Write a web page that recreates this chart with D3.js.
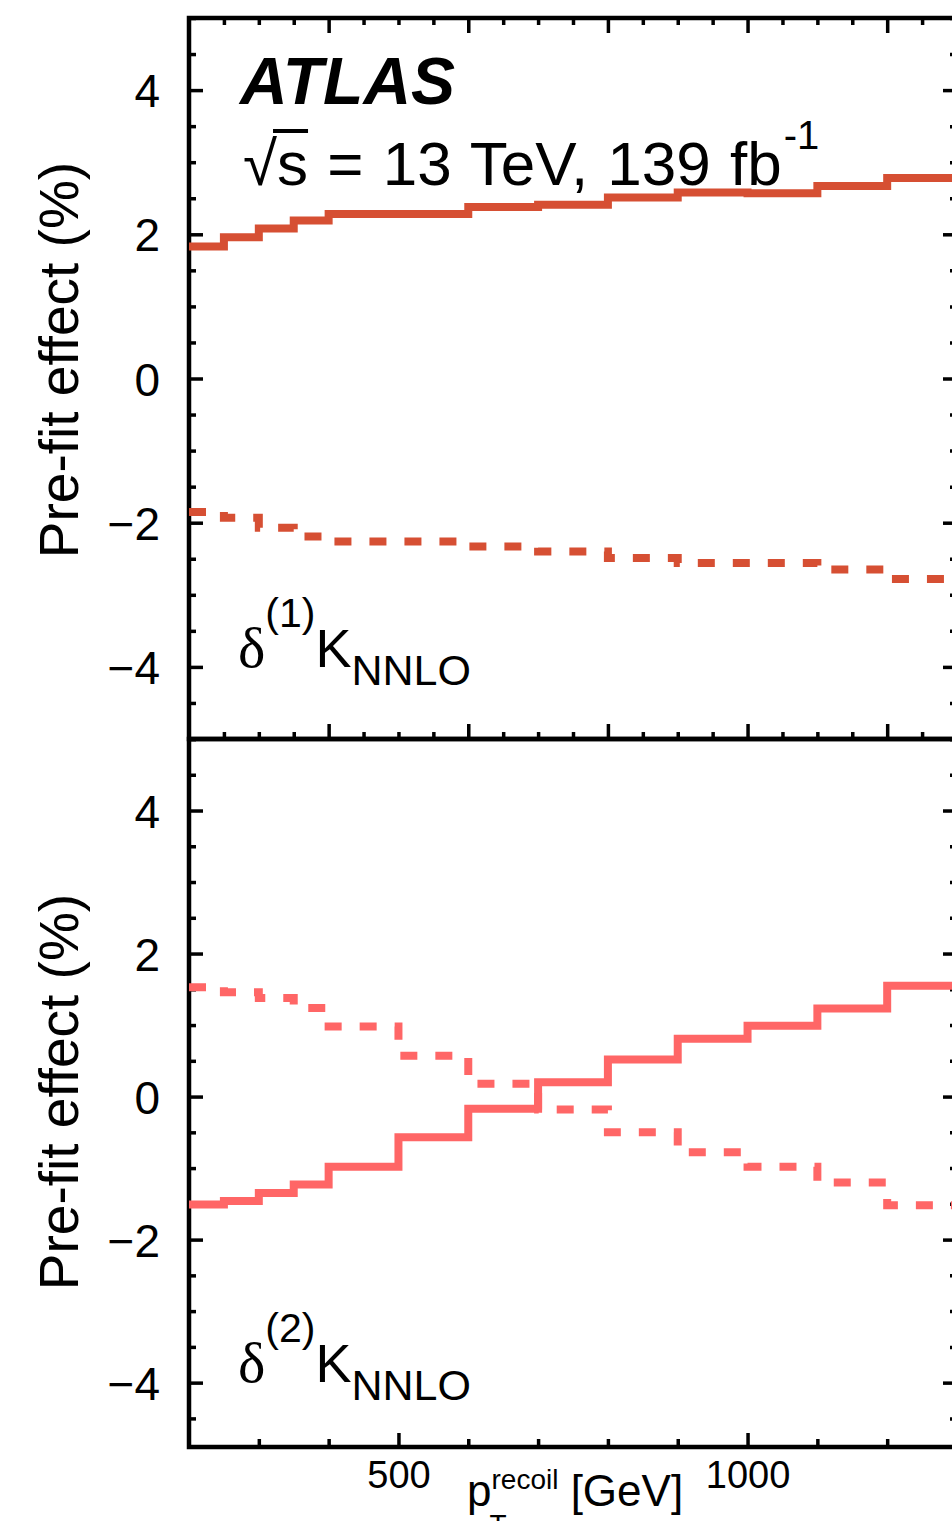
<!DOCTYPE html>
<html>
<head>
<meta charset="utf-8">
<script src="https://cdn.jsdelivr.net/npm/d3@7"></script>
<style>
  body { margin: 0; background: #fff; }
  svg { display: block; }
  text { font-family: "Liberation Sans", Arial, sans-serif; fill: #000; }
</style>
</head>
<body>
<div id="chart"></div>
<script>
// bin edges in GeV and the four variations (%)
var edges = [200, 250, 300, 350, 400, 500, 600, 700, 800, 900, 1000, 1100, 1200, 1300];
var k1Up   = [1.83, 1.96, 2.08, 2.19, 2.28, 2.28, 2.38, 2.41, 2.51, 2.58, 2.57, 2.67, 2.78];
var k1Down = [-1.85, -1.93, -2.07, -2.19, -2.26, -2.26, -2.33, -2.40, -2.49, -2.56, -2.56, -2.65, -2.78];
var k2Up   = [-1.51, -1.46, -1.35, -1.23, -0.98, -0.57, -0.17, 0.20, 0.52, 0.81, 0.99, 1.23, 1.55];
var k2Down = [1.53, 1.46, 1.38, 1.24, 0.98, 0.57, 0.18, -0.18, -0.50, -0.78, -0.98, -1.20, -1.52];

var yMajor = [-4, -2, 0, 2, 4];
var xLabels = [500, 1000];

var W = 952, H = 1521;
var left = 189, right = 957;
var frameW = 4.5;

var svg = d3.select("#chart").append("svg")
    .attr("width", W)
    .attr("height", H);

var x = d3.scaleLinear().domain([200, 1300]).range([left, right]);
var yTop = d3.scaleLinear().domain([-5, 5]).range([739, 18]);
var yBot = d3.scaleLinear().domain([-4.9, 5]).range([1447, 739]);

function minorsY(lo, hi) {
    return d3.range(Math.ceil(lo * 2) / 2, hi + 0.001, 0.5).filter(function(v) { return Math.abs(v % 2) > 1e-6; });
}

// y axes, both sides, ticks pointing inward
function yAxes(y, lo, hi) {
    var g = svg.append("g");
    g.append("g").attr("transform", "translate(" + left + ",0)")
        .call(d3.axisLeft(y).tickValues(yMajor).tickSize(-14).tickPadding(29).tickFormat(d3.format("d")));
    g.append("g").attr("transform", "translate(" + left + ",0)")
        .call(d3.axisLeft(y).tickValues(minorsY(lo, hi)).tickSize(-7).tickFormat(""));
    g.append("g").attr("transform", "translate(" + right + ",0)")
        .call(d3.axisRight(y).tickValues(yMajor).tickSize(-14).tickFormat(""));
    g.append("g").attr("transform", "translate(" + right + ",0)")
        .call(d3.axisRight(y).tickValues(minorsY(lo, hi)).tickSize(-7).tickFormat(""));
    return g;
}

var gy1 = yAxes(yTop, -5, 5);
var gy2 = yAxes(yBot, -4.9, 5);

// upper panel x ticks: top and bottom
var up50 = d3.range(250, 1300, 50);
var up200 = up50.filter(function(v) { return v % 200 === 0; });
var upMinor = up50.filter(function(v) { return v % 200 !== 0; });
[[18, d3.axisTop], [739, d3.axisBottom]].forEach(function(s) {
    svg.append("g").attr("transform", "translate(0," + s[0] + ")")
        .call(s[1](x).tickValues(up200).tickSize(-15).tickFormat(""));
    svg.append("g").attr("transform", "translate(0," + s[0] + ")")
        .call(s[1](x).tickValues(upMinor).tickSize(-7).tickFormat(""));
});

// lower panel bottom x axis
var lo100 = d3.range(300, 1300, 100);
var gx = svg.append("g").attr("transform", "translate(0,1447)")
    .call(d3.axisBottom(x).tickValues(xLabels).tickSize(-14).tickPadding(14).tickFormat(d3.format("d")));
svg.append("g").attr("transform", "translate(0,1447)")
    .call(d3.axisBottom(x).tickValues(lo100.filter(function(v) { return v % 500 !== 0; })).tickSize(-8).tickFormat(""));

svg.selectAll(".domain").remove();
svg.selectAll(".tick line").attr("stroke", "#000").attr("stroke-width", 3.5);
svg.selectAll(".tick text").attr("font-family", "Liberation Sans, Arial, sans-serif").attr("fill", "#000");
gy1.selectAll(".tick text").attr("font-size", 46).attr("dy", "0.36em");
gy2.selectAll(".tick text").attr("font-size", 46).attr("dy", "0.36em");
gx.selectAll(".tick text").attr("font-size", 38).attr("dy", "0.72em");

// frames
svg.append("rect").attr("x", left).attr("y", 18).attr("width", right - left).attr("height", 739 - 18)
    .attr("fill", "none").attr("stroke", "#000").attr("stroke-width", frameW);
svg.append("rect").attr("x", left).attr("y", 739).attr("width", right - left).attr("height", 1447 - 739)
    .attr("fill", "none").attr("stroke", "#000").attr("stroke-width", frameW);

// step histograms
function steps(vals) {
    return vals.map(function(v, i) { return [edges[i], v]; }).concat([[edges[edges.length - 1], vals[vals.length - 1]]]);
}
function drawHist(y, vals, color, dashed) {
    var line = d3.line().x(function(d) { return x(d[0]); }).y(function(d) { return y(d[1]); }).curve(d3.curveStepAfter);
    svg.append("path").datum(steps(vals))
        .attr("d", line)
        .attr("fill", "none")
        .attr("stroke", color)
        .attr("stroke-width", 8)
        .attr("stroke-linejoin", "miter")
        .attr("stroke-dasharray", dashed ? "17,18" : null);
}
drawHist(yTop, k1Up, "#d64f33", false);
drawHist(yTop, k1Down, "#d64f33", true);
drawHist(yBot, k2Up, "#ff6666", false);
drawHist(yBot, k2Down, "#ff6666", true);

// ATLAS label
svg.append("text").attr("x", 240).attr("y", 104)
    .attr("font-size", 66).attr("font-weight", "bold").attr("font-style", "italic")
    .text("ATLAS");

var lumi = svg.append("text").attr("x", 243).attr("y", 185).attr("font-size", 62).attr("word-spacing", 2);
lumi.append("tspan").text("√s = 13 TeV, 139 fb");
lumi.append("tspan").attr("dx", 2).attr("dy", -36).attr("font-size", 40).text("-1");
var sBox = lumi.node().getExtentOfChar(1);
svg.append("line")
    .attr("x1", sBox.x - 4).attr("x2", sBox.x + sBox.width)
    .attr("y1", 131).attr("y2", 131)
    .attr("stroke", "#000").attr("stroke-width", 4);

// panel labels
function kLabel(yBase, n) {
    var t = svg.append("text").attr("x", 238).attr("y", yBase).attr("font-size", 54);
    t.append("tspan").attr("font-family", "Liberation Serif, DejaVu Serif, serif").attr("font-size", 58).text("δ");
    t.append("tspan").attr("dy", -40).attr("font-size", 41).text("(" + n + ")");
    t.append("tspan").attr("dy", 40).attr("font-size", 54).text("K");
    t.append("tspan").attr("dy", 18).attr("font-size", 43).text("NNLO");
}
kLabel(667, 1);
kLabel(1382, 2);

// y titles
[360, 1092].forEach(function(cy) {
    svg.append("text")
        .attr("transform", "translate(78," + cy + ") rotate(-90)")
        .attr("text-anchor", "middle")
        .attr("font-size", 55)
        .text("Pre-fit effect (%)");
});

// x title
var xt = svg.append("text").attr("x", 467).attr("y", 1506).attr("font-size", 44);
xt.append("tspan").text("p");
xt.append("tspan").attr("dy", -17).attr("font-size", 28).text("recoil");
xt.append("tspan").attr("dy", 17).attr("font-size", 44).text(" [GeV]");
var pBox = xt.node().getExtentOfChar(0);
svg.append("text").attr("x", pBox.x + pBox.width - 2).attr("y", 1534).attr("font-size", 28).text("T");
</script>
</body>
</html>
